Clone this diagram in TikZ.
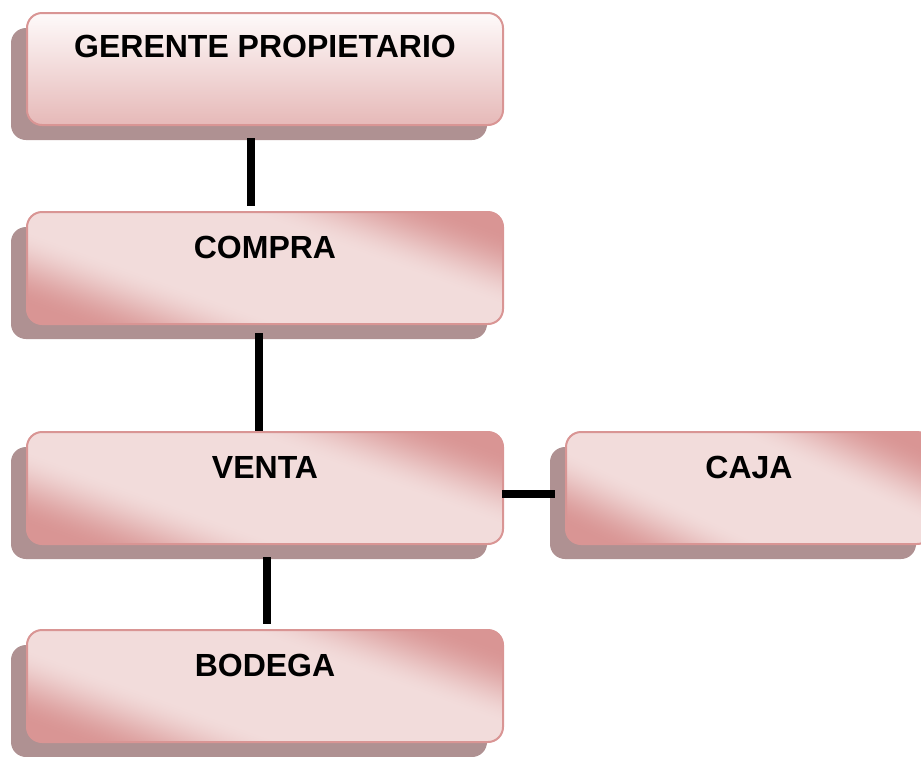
\documentclass[tikz,border=0pt]{standalone}
\usepackage{fontspec}
\setmainfont{Liberation Sans}
\usetikzlibrary{calc,shadows}
\definecolor{rosaosc}{RGB}{217,149,148}
\definecolor{rosaclaro}{RGB}{242,220,219}
\definecolor{rosafondo}{RGB}{230,185,184}
\definecolor{rosablanco}{RGB}{254,250,250}
\definecolor{sombra}{RGB}{175,145,146}
% brillo diagonal: franja clara de arriba-izq. a abajo-der., esquinas oscuras
\pgfdeclarefunctionalshading{brillo}{\pgfpointorigin}{\pgfpoint{100bp}{100bp}}{}{
  50 sub 25 div exch 50 sub 25 div 1.55 mul add abs
  0.85 sub 1.35 div
  dup 0 lt {pop 0} if
  dup 1 gt {pop 1} if
  dup dup mul exch 2 mul 3 exch sub mul
  dup -0.098 mul 0.949 add exch
  dup -0.278 mul 0.863 add exch
  -0.278 mul 0.859 add
}

\begin{document}
\begin{tikzpicture}[x=1pt,y=-1pt,
  bloque/.style={rounded corners=15pt, draw=rosaosc, line width=2pt,
    shading=brillo, minimum width=476pt,
    text height=46pt, text depth=66pt, inner ysep=0pt, inner xsep=0pt, outer sep=0pt,
    font=\fontsize{32}{38}\selectfont\bfseries,
    drop shadow={shadow xshift=-16pt, shadow yshift=-15pt, fill=sombra, opacity=1}},
  bloquealto/.style={top color=rosablanco, bottom color=rosafondo,
    text height=44pt, text depth=68pt},
  enlace/.style={line width=8pt, black}]
\clip (0,0) rectangle (921,756);

\node[bloque, bloquealto] (ger) at (265,69) {GERENTE PROPIETARIO};
\node[bloque] (com) at (265,268) {COMPRA};
\node[bloque] (ven) at (265,488) {VENTA};
\node[bloque, minimum width=366pt] (caj) at (749,488) {CAJA};
\node[bloque] (bod) at (265,686) {BODEGA};

% lineas del organigrama
\draw[enlace] ($(ger.south)+(-14,13)$) -- ($(com.north)+(-14,-6)$);
\draw[enlace] ($(com.south)+(-6,9)$) -- ($(ven.north)+(-6,-1)$);
\draw[enlace] ($(ven.south)+(2,13)$) -- ($(bod.north)+(2,-6)$);
\draw[enlace] ($(ven.east)+(-1,6)$) -- ($(caj.west)+(-11,6)$);
\end{tikzpicture}
\end{document}
